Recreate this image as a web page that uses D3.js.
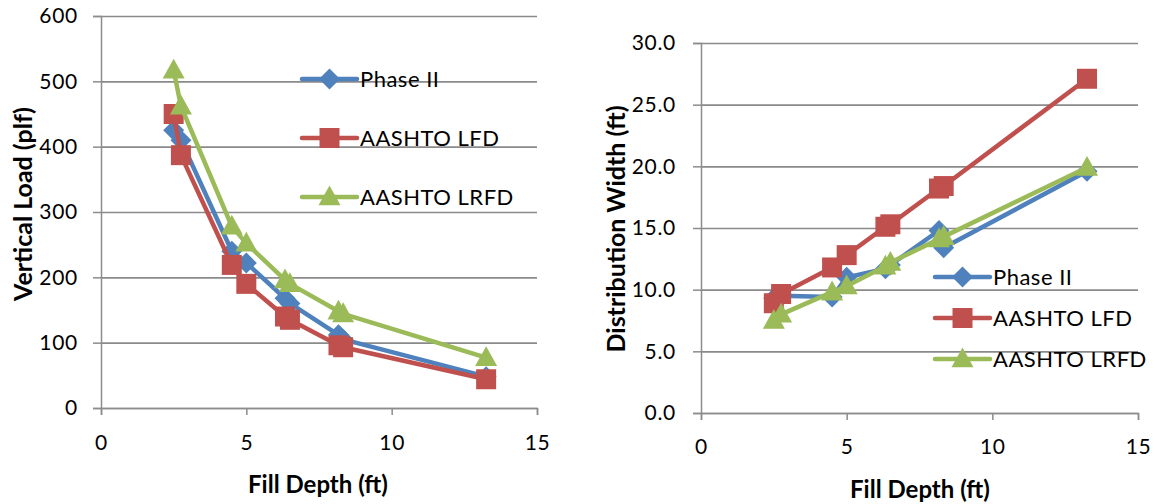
<!DOCTYPE html>
<html>
<head>
<meta charset="utf-8">
<script src="https://cdn.jsdelivr.net/npm/d3@7/dist/d3.min.js"></script>
<style>
  html, body { margin: 0; padding: 0; background: #fff; }
  svg { display: block; }
  text { font-family: Lato, "Open Sans", sans-serif; fill: #000; }
</style>
</head>
<body>
<svg id="chart" width="1155" height="504"></svg>
<script>
// Fill depth (ft) for each measured case
const fillDepth = [2.5, 2.75, 4.5, 5.0, 6.33, 6.5, 8.17, 8.33, 13.25];

// Vertical load (plf)
const loadPhaseII = [425, 410, 240, 222, 168, 160, 112, 105, 48];
const loadLFD     = [450, 387, 219, 190, 140, 135, 96, 93, 44];
const loadLRFD    = [517, 462, 278, 252, 196, 190, 148, 144, 77];

// Distribution width (ft)
const widthPhaseII = [9.3, 9.5, 9.4, 11.0, 11.7, 12.0, 14.8, 13.4, 19.6];
const widthLFD     = [8.9, 9.65, 11.8, 12.8, 15.1, 15.3, 18.2, 18.4, 27.1];
const widthLRFD    = [7.5, 8.0, 9.8, 10.3, 11.9, 12.2, 14.1, 14.3, 19.9];

const seriesNames = ["Phase II", "AASHTO LFD", "AASHTO LRFD"];
const xTicks = [0, 5, 10, 15];
const loadTicks = [0, 100, 200, 300, 400, 500, 600];
const widthTicks = [0, 5, 10, 15, 20, 25, 30];

const colors = ["#4F81BD", "#C0504D", "#9BBB59"];
const markers = ["diamond", "square", "triangle"];

const svg = d3.select("#chart");

function markerPath(kind, s) {
  const p = d3.path();
  if (kind === "diamond") {
    p.moveTo(0, -s); p.lineTo(s, 0); p.lineTo(0, s); p.lineTo(-s, 0); p.closePath();
  } else if (kind === "square") {
    p.rect(-s, -s, 2 * s, 2 * s);
  } else {
    p.moveTo(0, -s * 1.05); p.lineTo(s, s * 0.75); p.lineTo(-s, s * 0.75); p.closePath();
  }
  return p.toString();
}
const markerSize = { diamond: 10.5, square: 10, triangle: 11 };

function styleTicks(a) {
  a.select(".domain").attr("stroke", "#8c8c8c").attr("stroke-width", 1.5);
  a.selectAll("line").attr("stroke", "#8c8c8c").attr("stroke-width", 1.5);
  a.selectAll("text")
    .attr("font-family", "Lato, sans-serif")
    .attr("fill", "#000")
    .style("font-size", "21px")
    .style("letter-spacing", "0.7px");
}

function drawPanel(cfg) {
  const g = svg.append("g");
  const x = d3.scaleLinear().domain([0, 15]).range([cfg.left, cfg.right]);
  const y = d3.scaleLinear().domain(cfg.yDomain).range([cfg.bottom, cfg.top]);

  // horizontal gridlines
  g.append("g")
    .attr("transform", `translate(${cfg.left},0)`)
    .call(d3.axisLeft(y).tickValues(cfg.yTicks).tickSize(-(cfg.right - cfg.left)).tickFormat(""))
    .call(a => a.select(".domain").remove())
    .call(a => a.selectAll("line").attr("stroke", "#8a8a8a").attr("stroke-width", 1.6));

  // y axis with outside tick marks
  g.append("g")
    .attr("transform", `translate(${cfg.left},0)`)
    .call(d3.axisLeft(y).tickValues(cfg.yTicks).tickSize(8).tickPadding(cfg.yPad).tickFormat(cfg.yFormat))
    .call(styleTicks);

  // x axis
  g.append("g")
    .attr("transform", `translate(0,${cfg.bottom})`)
    .call(d3.axisBottom(x).tickValues(xTicks).tickSize(7).tickPadding(cfg.xPad).tickFormat(d3.format("d")))
    .call(styleTicks);

  // axis titles
  g.append("text")
    .attr("x", cfg.xTitle[0]).attr("y", cfg.xTitle[1])
    .attr("text-anchor", "middle")
    .style("font-size", "24px").style("font-weight", "bold")
    .text("Fill Depth (ft)");
  g.append("text")
    .attr("transform", `translate(${cfg.yTitle[0]},${cfg.yTitle[1]}) rotate(-90)`)
    .attr("text-anchor", "middle")
    .style("font-size", "25px").style("font-weight", "bold")
    .text(cfg.yTitleText);

  // series: line then markers, in series order
  const line = d3.line().x(d => x(d[0])).y(d => y(d[1]));
  cfg.series.forEach((vals, i) => {
    const pts = fillDepth.map((fd, k) => [fd, vals[k]]);
    const sg = g.append("g");
    sg.append("path").datum(pts)
      .attr("d", line)
      .attr("fill", "none")
      .attr("stroke", colors[i])
      .attr("stroke-width", 4.5)
      .attr("stroke-linejoin", "round")
      .attr("stroke-linecap", "round");
    sg.selectAll("path.mk").data(pts).join("path")
      .attr("class", "mk")
      .attr("transform", d => `translate(${x(d[0])},${y(d[1])})`)
      .attr("d", markerPath(markers[i], markerSize[markers[i]]))
      .attr("fill", colors[i]);
  });

  // legend
  seriesNames.forEach((name, i) => {
    const ly = cfg.legendY[i];
    const lg = g.append("g");
    lg.append("line")
      .attr("x1", cfg.legendX).attr("x2", cfg.legendX + 55)
      .attr("y1", ly).attr("y2", ly)
      .attr("stroke", colors[i]).attr("stroke-width", 4.5).attr("stroke-linecap", "round");
    lg.append("path")
      .attr("transform", `translate(${cfg.legendX + 27.5},${ly})`)
      .attr("d", markerPath(markers[i], markerSize[markers[i]]))
      .attr("fill", colors[i]);
    lg.append("text")
      .attr("x", cfg.legendX + 58).attr("y", ly)
      .attr("dy", "0.36em")
      .style("font-size", "22px")
      .style("letter-spacing", "0.5px")
      .text(name);
  });
}

drawPanel({
  left: 101, right: 537, top: 16, bottom: 408,
  yDomain: [0, 600], yTicks: loadTicks, yFormat: d3.format("d"), yPad: 15, xPad: 20,
  series: [loadPhaseII, loadLFD, loadLRFD],
  xTitle: [318, 493], yTitle: [32, 204], yTitleText: "Vertical Load (plf)",
  legendX: 302, legendY: [79, 138, 197]
});

drawPanel({
  left: 701, right: 1138, top: 43, bottom: 413,
  yDomain: [0, 30], yTicks: widthTicks, yFormat: d3.format(".1f"), yPad: 17, xPad: 19,
  series: [widthPhaseII, widthLFD, widthLRFD],
  xTitle: [920, 498], yTitle: [625, 229], yTitleText: "Distribution Width (ft)",
  legendX: 935, legendY: [277, 318, 359]
});
</script>
</body>
</html>
